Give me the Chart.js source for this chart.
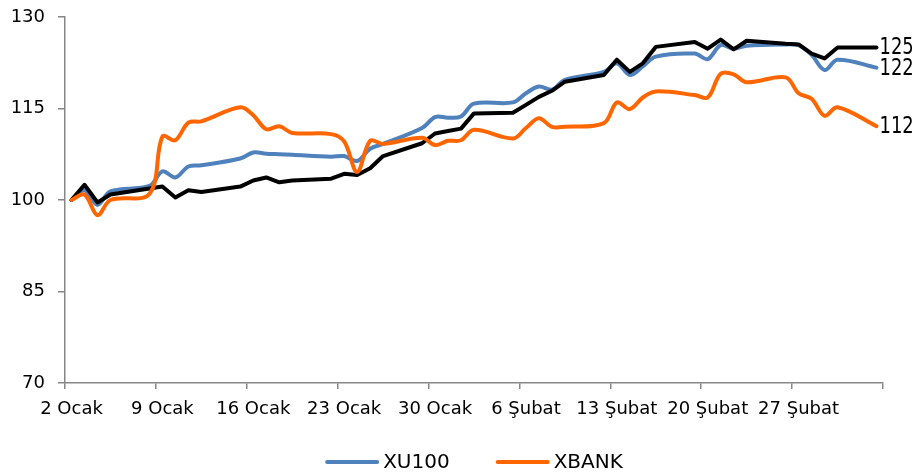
<!DOCTYPE html>
<html>
<head>
<meta charset="utf-8">
<script src="https://cdn.jsdelivr.net/npm/chart.js@4/dist/chart.umd.min.js"></script>
<style>
  html, body { margin: 0; padding: 0; background: #fff; }
  #wrap { width: 916px; height: 474px; }
</style>
</head>
<body>
<div id="wrap"><canvas id="myChart" width="916" height="474"></canvas></div>
<script>
// trading days, counted in calendar days from 2 Ocak
const days = [0, 1, 2, 3, 6, 7, 8, 9, 10, 13, 14, 15, 16, 17, 20, 21, 22, 23, 24,
  27, 28, 29, 30, 31, 34, 35, 36, 37, 38, 41, 42, 43, 44, 45, 48, 49, 50, 51, 52,
  55, 56, 57, 58, 59, 62];

const tickLabels = ['2 Ocak', '9 Ocak', '16 Ocak', '23 Ocak', '30 Ocak',
  '6 Şubat', '13 Şubat', '20 Şubat', '27 Şubat'];

const xu100 = [100, 101.6, 99.2, 101.4, 102.3, 104.7, 103.7, 105.5, 105.7, 106.8,
  107.8, 107.6, 107.5, 107.4, 107.1, 107.2, 106.4, 108.4, 109.2, 111.8,
  113.6, 113.5, 113.7, 115.8, 116.0, 117.5, 118.6, 118.1, 119.7, 121.0,
  122.4, 120.5, 121.9, 123.5, 124.0, 123.1, 125.4, 124.8, 125.3, 125.5,
  125.4, 123.8, 121.3, 123.0, 121.7];

const xbank = [100, 100.9, 97.5, 100.0, 101.0, 110.4, 109.8, 112.7, 112.9, 115.2,
  113.9, 111.6, 112.1, 111.0, 110.8, 109.6, 104.6, 109.7, 109.2, 110.2,
  109.0, 109.7, 109.8, 111.5, 110.1, 111.8, 113.4, 112.0, 112.0, 112.6,
  116.0, 114.9, 116.8, 117.8, 117.2, 116.8, 120.7, 120.6, 119.3, 120.1,
  117.5, 116.6, 113.8, 115.2, 112.1];

// black line, no legend entry
const other = [100, 102.5, 99.6, 100.9, 101.9, 102.2, 100.4, 101.6, 101.3, 102.2,
  103.2, 103.7, 102.9, 103.2, 103.5, 104.3, 104.1, 105.2, 107.2, 109.3,
  110.9, 111.3, 111.7, 114.2, 114.3, 115.6, 116.9, 117.9, 119.4, 120.5,
  123.0, 121.0, 122.4, 125.1, 125.9, 124.8, 126.3, 124.7, 126.1, 125.6,
  125.5, 124.0, 123.2, 125.0, 125.0];

const FONT = 'DejaVu Sans';

// each value sits in the middle of its day slot
const toPoints = (vals) => vals.map((v, i) => ({ x: days[i] + 0.5, y: v }));

const endLabels = {
  id: 'endLabels',
  afterDatasetsDraw(chart) {
    const ctx = chart.ctx;
    chart.data.datasets.forEach((ds, i) => {
      const pts = chart.getDatasetMeta(i).data;
      const last = pts[pts.length - 1];
      ctx.save();
      ctx.font = '23px "' + FONT + '"';
      ctx.fillStyle = '#000';
      ctx.textAlign = 'left';
      ctx.textBaseline = 'middle';
      // narrow lettering like the original
      ctx.translate(last.x + 3, last.y + 1);
      ctx.scale(0.78, 1);
      ctx.fillText(String(Math.round(ds.data[ds.data.length - 1].y)), 0, 0);
      ctx.restore();
    });
  }
};

const bottomLegend = {
  id: 'bottomLegend',
  afterDraw(chart) {
    const ctx = chart.ctx;
    const items = chart.data.datasets.filter(d => d.showInLegend);
    ctx.save();
    ctx.font = '20px "' + FONT + '"';
    const lineW = 54, gapText = 4, gapItem = 46;
    let total = 0;
    items.forEach((d, i) => {
      total += lineW + gapText + ctx.measureText(d.label).width;
      if (i > 0) total += gapItem;
    });
    const area = chart.chartArea;
    let x = (area.left + area.right) / 2 - total / 2;
    const y = 462;
    items.forEach(d => {
      ctx.strokeStyle = d.borderColor;
      ctx.lineWidth = 4;
      ctx.lineCap = 'round';
      ctx.beginPath();
      ctx.moveTo(x + 2, y);
      ctx.lineTo(x + lineW - 2, y);
      ctx.stroke();
      ctx.fillStyle = '#000';
      ctx.textBaseline = 'middle';
      ctx.fillText(d.label, x + lineW + gapText, y + 1);
      x += lineW + gapText + ctx.measureText(d.label).width + gapItem;
    });
    ctx.restore();
  }
};

const axisGray = '#868686';

new Chart(document.getElementById('myChart'), {
  type: 'line',
  data: {
    datasets: [
      {
        label: 'XU100',
        data: toPoints(xu100),
        borderColor: '#4F81BD',
        borderWidth: 4,
        tension: 0.35,
        pointRadius: 0,
        order: 2,
        showInLegend: true
      },
      {
        label: 'XBANK',
        data: toPoints(xbank),
        borderColor: '#FF6600',
        borderWidth: 4,
        tension: 0.35,
        pointRadius: 0,
        order: 0,
        showInLegend: true
      },
      {
        label: '',
        data: toPoints(other),
        borderColor: '#000000',
        borderWidth: 4,
        tension: 0,
        pointRadius: 0,
        order: 1,
        showInLegend: false
      }
    ]
  },
  options: {
    responsive: false,
    animation: false,
    layout: { padding: { top: 17, right: 33, left: 0, bottom: 0 } },
    plugins: {
      legend: { display: false },
      tooltip: { enabled: false }
    },
    elements: { line: { borderCapStyle: 'round', borderJoinStyle: 'round' } },
    scales: {
      x: {
        type: 'linear',
        min: 0,
        max: 63,
        afterFit(scale) {
          scale.height = 91;
          scale.paddingLeft = 0;
          scale.paddingRight = 0;
        },
        border: { color: axisGray, width: 1.5 },
        grid: { drawOnChartArea: false, drawTicks: true, tickLength: 6, color: axisGray, lineWidth: 1.5 },
        ticks: {
          stepSize: 7,
          autoSkip: false,
          maxRotation: 0,
          labelOffset: 6.5,
          padding: 10,
          color: '#000',
          font: { family: FONT, size: 18 },
          callback: (v) => tickLabels[v / 7] || ''
        }
      },
      y: {
        min: 70,
        max: 130,
        afterFit(scale) {
          scale.width = 65;
          scale.paddingTop = 0;
          scale.paddingBottom = 0;
        },
        border: { color: axisGray, width: 1.5 },
        grid: { drawOnChartArea: false, drawTicks: true, tickLength: 7, color: axisGray, lineWidth: 1.5 },
        ticks: {
          stepSize: 15,
          padding: 13,
          color: '#000',
          font: { family: FONT, size: 18 }
        }
      }
    }
  },
  plugins: [endLabels, bottomLegend]
});
</script>
</body>
</html>
